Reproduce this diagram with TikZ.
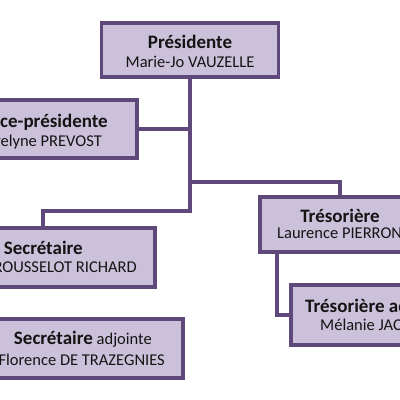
\documentclass[tikz,border=0pt]{standalone}
\usepackage{fontspec}
\setmainfont{Carlito}
\definecolor{edge}{HTML}{5F497A}
\definecolor{boxfill}{HTML}{CCC1DA}
\definecolor{ink}{HTML}{141414}
\newcommand{\ttlfont}{\fontsize{19bp}{22bp}\selectfont\bfseries}
\tikzset{
  orgbox/.style={draw=edge, fill=boxfill, line width=3.4bp, rectangle, inner sep=0pt},
  conn/.style={draw=edge, line width=3.4bp},
  txt/.style={inner sep=0pt, text=ink, font=\fontsize{16.5bp}{20bp}\selectfont},
  ttl/.style={inner sep=0pt, text=ink, font=\ttlfont},
}
\begin{document}
\begin{tikzpicture}[x=1bp,y=-1bp]
\useasboundingbox (0,0) rectangle (400,400);
\clip (0,0) rectangle (400,400);
% boxes
\node[orgbox, minimum width=177bp, minimum height=54bp] (pres) at (190,50) {};
\node[orgbox, minimum width=197bp, minimum height=58bp] (vice) at (38.5,129) {};
\node[orgbox, minimum width=215bp, minimum height=59bp] (sec) at (47.5,257.5) {};
\node[orgbox, minimum width=223bp, minimum height=59bp] (secadj) at (71.5,348.5) {};
\node[orgbox, minimum width=160bp, minimum height=55bp] (tres) at (340,224.5) {};
\node[orgbox, minimum width=179bp, minimum height=60bp] (tresadj) at (380.5,315) {};
% connectors
\coordinate (jl) at (43,211);
\coordinate (jr) at (340,182);
\coordinate (jt) at (277,314);
\draw[conn] (pres.south) |- (vice.east);
\draw[conn] (pres.south) |- (jl) -- (jl |- sec.north);
\draw[conn] (pres.south) |- (jr) -- (jr |- tres.north);
\draw[conn] (jt |- tres.south) |- (tresadj.west);
% texts
\node[ttl] (t1a) at (190,42) {Présidente};
\node[txt] (t1b) at (190,62) {Marie-Jo VAUZELLE};
\node[ttl, anchor=east] (t2a) at (108,122) {Vice-présidente};
\node[txt, anchor=east] (t2b) at (102,142) {Evelyne PREVOST};
\node[ttl, anchor=east] (t3a) at (83,248) {Secrétaire};
\node[txt, anchor=east] (t3b) at (137,267) {ROUSSELOT RICHARD};
\node[txt, anchor=east] (t4a) at (152,339) {{\ttlfont Secrétaire} adjointe};
\node[txt, anchor=east] (t4b) at (165,360) {Florence DE TRAZEGNIES};
\node[ttl] (t5a) at (340,216) {Trésorière};
\node[txt, anchor=west] (t5b) at (277,233) {Laurence PIERRON};
\node[ttl, anchor=west] (t6a) at (305,307) {Trésorière adjointe};
\node[txt, anchor=west] (t6b) at (320,325) {Mélanie JAC};
\end{tikzpicture}
\end{document}
